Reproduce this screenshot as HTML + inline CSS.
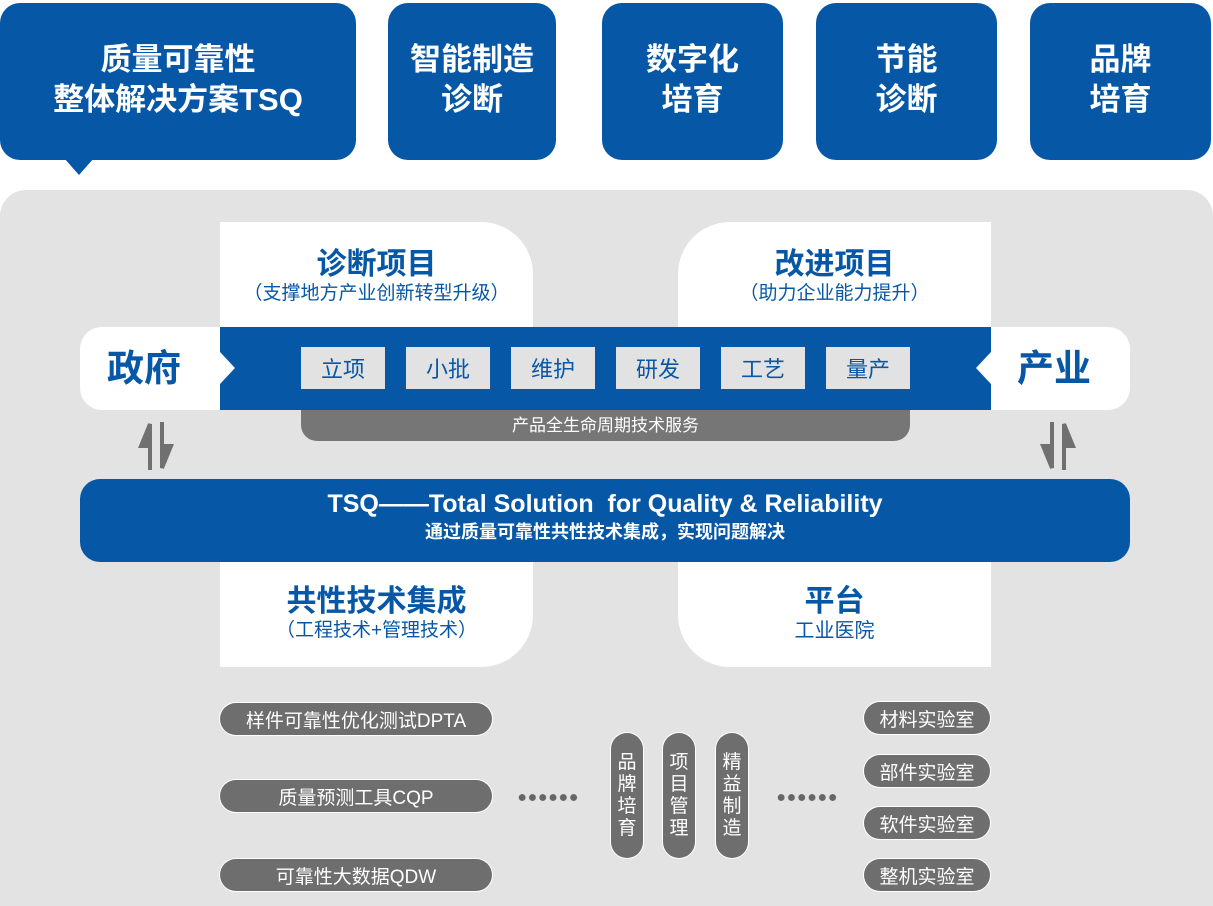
<!DOCTYPE html>
<html><head><meta charset="utf-8"><style>
*{margin:0;padding:0;box-sizing:border-box}
body{width:1213px;height:906px;background:#fff;position:relative;overflow:hidden;font-family:"Liberation Sans","Noto Sans CJK SC",sans-serif}
.a{position:absolute}
.blue{background:#0757a7}
.top{position:absolute;top:3px;height:157px;border-radius:20px;background:#0757a7;color:#fff;font-weight:bold;font-size:31px;line-height:40px;display:flex;align-items:center;justify-content:center;text-align:center;padding-bottom:4px}
.tag{position:absolute;top:347px;width:84px;height:42px;background:#e2e2e2;color:#0757a7;font-size:22px;display:flex;align-items:center;justify-content:center}
.pill{position:absolute;height:32px;border-radius:16px;background:#6e6e6e;color:#fff;font-size:19px;display:flex;align-items:center;justify-content:center;box-shadow:0 0 0 1px #fff}
.vp{position:absolute;top:733px;width:32px;height:125px;border-radius:16px;background:#6e6e6e;color:#fff;font-size:19px;line-height:22px;display:flex;align-items:center;justify-content:center;text-align:center;box-shadow:0 0 0 1px #fff}
.dots{position:absolute;top:794px;width:62px;height:7px;background:radial-gradient(circle,#666 3.2px,transparent 3.6px) 0 0/10.3px 7px}
</style></head><body>
<div class="top" style="left:0;width:356px">质量可靠性<br>整体解决方案TSQ</div>
<div class="a" style="left:64px;top:158px;width:0;height:0;border-left:15px solid transparent;border-right:15px solid transparent;border-top:17px solid #0757a7"></div>
<div class="top" style="left:388px;width:168px">智能制造<br>诊断</div>
<div class="top" style="left:602px;width:181px">数字化<br>培育</div>
<div class="top" style="left:816px;width:181px">节能<br>诊断</div>
<div class="top" style="left:1030px;width:181px">品牌<br>培育</div>

<div class="a" style="left:0;top:190px;width:1213px;height:716px;background:#e3e3e3;border-radius:26px 26px 0 0"></div>

<div class="a" style="left:220px;top:222px;width:313px;height:106px;background:#fff;border-radius:0 52px 0 0;text-align:center;color:#0757a7">
<div style="font-size:30px;font-weight:bold;margin-top:26px;line-height:34px">诊断项目</div>
<div style="font-size:19px;line-height:24px">（支撑地方产业创新转型升级）</div></div>
<div class="a" style="left:678px;top:222px;width:313px;height:106px;background:#fff;border-radius:52px 0 0 0;text-align:center;color:#0757a7">
<div style="font-size:30px;font-weight:bold;margin-top:26px;line-height:34px">改进项目</div>
<div style="font-size:19px;line-height:24px">（助力企业能力提升）</div></div>

<div class="a" style="left:301px;top:400px;width:609px;height:41px;background:#767676;border-radius:0 0 16px 16px;color:#fff;font-size:17px;text-align:center;padding-top:15px;line-height:22px">产品全生命周期技术服务</div>

<div class="a blue" style="left:220px;top:327px;width:771px;height:83px"></div>
<div class="a" style="left:80px;top:327px;width:140px;height:83px;background:#fff;border-radius:22px 0 0 22px;color:#0757a7;font-size:37px;font-weight:bold;line-height:83px;padding-left:27px">政府</div>
<div class="a" style="left:220px;top:352px;width:0;height:0;border-top:16px solid transparent;border-bottom:16px solid transparent;border-left:15px solid #fff"></div>
<div class="a" style="left:991px;top:327px;width:139px;height:83px;background:#fff;border-radius:0 22px 22px 0;color:#0757a7;font-size:37px;font-weight:bold;line-height:83px;padding-left:26px">产业</div>
<div class="a" style="left:976px;top:352px;width:0;height:0;border-top:16px solid transparent;border-bottom:16px solid transparent;border-right:15px solid #fff"></div>
<div class="tag" style="left:301px">立项</div>
<div class="tag" style="left:406px">小批</div>
<div class="tag" style="left:511px">维护</div>
<div class="tag" style="left:616px">研发</div>
<div class="tag" style="left:721px">工艺</div>
<div class="tag" style="left:826px">量产</div>

<svg class="a" style="left:138px;top:418px" width="40" height="56"><path d="M12 52 V6 L3 28 H12" fill="#707070" stroke="#707070" stroke-width="4"/><path d="M24 4 V50 L33 28 H24" fill="#707070" stroke="#707070" stroke-width="4"/></svg>
<svg class="a" style="left:1040px;top:418px" width="40" height="56"><path d="M12 4 V50 L3 28 H12" fill="#707070" stroke="#707070" stroke-width="4"/><path d="M24 52 V6 L33 28 H24" fill="#707070" stroke="#707070" stroke-width="4"/></svg>

<div class="a" style="left:220px;top:560px;width:313px;height:107px;background:#fff;border-radius:0 0 52px 0;text-align:center;color:#0757a7">
<div style="font-size:30px;font-weight:bold;margin-top:25px;line-height:34px">共性技术集成</div>
<div style="font-size:19px;line-height:24px">（工程技术+管理技术）</div></div>
<div class="a" style="left:678px;top:560px;width:313px;height:107px;background:#fff;border-radius:0 0 0 52px;text-align:center;color:#0757a7">
<div style="font-size:30px;font-weight:bold;margin-top:25px;line-height:34px">平台</div>
<div style="font-size:20px;line-height:24px;color:#0757a7">工业医院</div></div>

<div class="a blue" style="left:80px;top:479px;width:1050px;height:83px;border-radius:20px;color:#fff;text-align:center">
<div style="font-size:25px;font-weight:bold;margin-top:9px;line-height:32px">TSQ——Total Solution&nbsp; for Quality &amp; Reliability</div>
<div style="font-size:18px;font-weight:bold;line-height:24px">通过质量可靠性共性技术集成，实现问题解决</div></div>

<div class="pill" style="left:220px;top:703px;width:272px">样件可靠性优化测试DPTA</div>
<div class="pill" style="left:220px;top:780px;width:272px">质量预测工具CQP</div>
<div class="pill" style="left:220px;top:859px;width:272px">可靠性大数据QDW</div>
<div class="pill" style="left:864px;top:702px;width:126px">材料实验室</div>
<div class="pill" style="left:864px;top:755px;width:126px">部件实验室</div>
<div class="pill" style="left:864px;top:807px;width:126px">软件实验室</div>
<div class="pill" style="left:864px;top:859px;width:126px">整机实验室</div>
<div class="vp" style="left:611px">品<br>牌<br>培<br>育</div>
<div class="vp" style="left:663px">项<br>目<br>管<br>理</div>
<div class="vp" style="left:716px">精<br>益<br>制<br>造</div>
<div class="dots" style="left:517px"></div>
<div class="dots" style="left:776px"></div>
</body></html>
